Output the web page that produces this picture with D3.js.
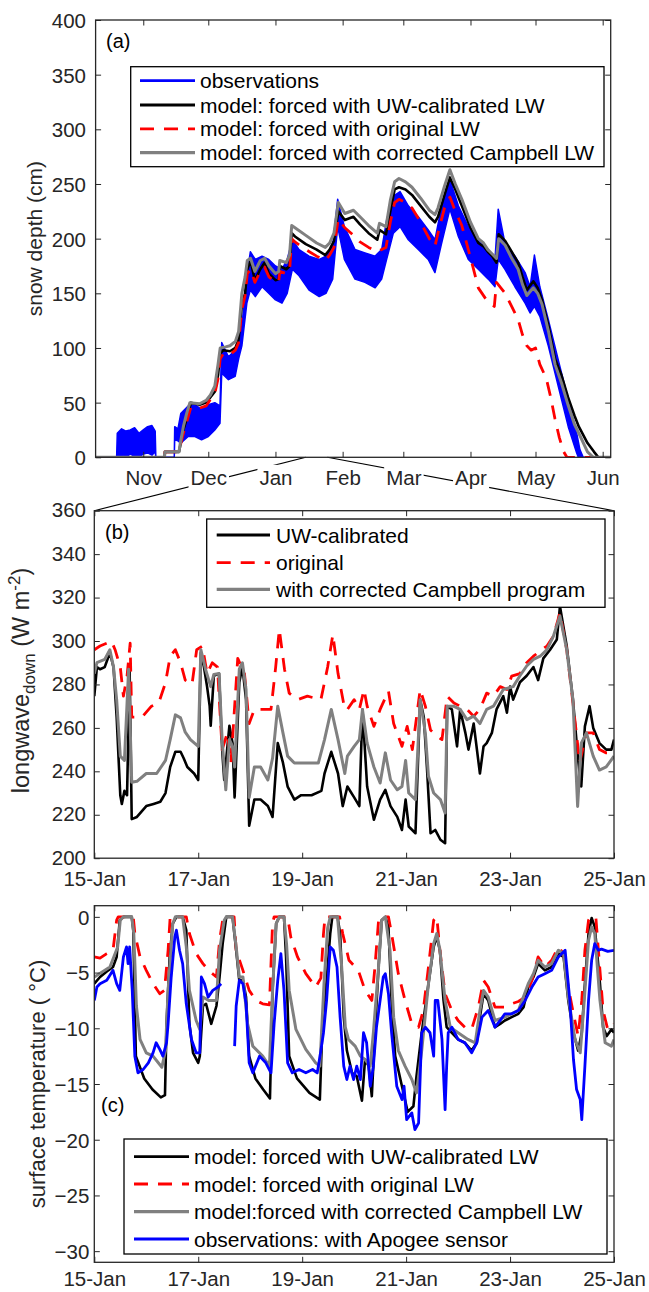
<!DOCTYPE html>
<html>
<head>
<meta charset="utf-8">
<script src="https://cdn.jsdelivr.net/npm/d3@7"></script>
<style>
  body { margin: 0; background: #fff; }
  text { font-family: "Liberation Sans", Arial, Helvetica, sans-serif; }
</style>
</head>
<body>
<script>
// ---------- panel (a): snow depth, x = days since 1 Nov, values in cm ----------
// observations drawn as a band: [day, low, high]
var snowObs = [[-22,0,0],[-12.3,0,0],[-12,0,22],[-10,2,26],[-8,0,24],[-6,3,25],[-4,1,27],[-2,0,22],[0,3,25],[2,4,28],[4,2,29],[5.5,5,24],[5.8,0,0],
  [14.3,0,0],[14.5,16,28],[16,15,26],[17.3,13,40],[20.7,19,47],[23.8,19,48],[26.9,16,44],[30,19,48],[33,25,50],[35.4,31,47],[36.2,77,105],
  [39.3,71,92],[42.4,74,98],[44,90,110],[45.5,102,120],[47.8,141,166],[49.4,153,188],[51.7,147,181],[54.8,156,184],[57.9,150,181],[61,144,175],
  [64,141,172],[66.4,150,181],[68.8,172,199],[71.9,166,190],[76.5,153,184],[81.2,147,181],[84.3,150,184],[87.4,163,193],[89.7,211,236],
  [92.8,181,211],[97.7,163,190],[102.3,160,187],[107,155,184],[110,163,190],[112.3,181,217],[115.4,205,239],[118.5,211,243],[122.3,199,230],
  [126.9,190,220],[131.5,181,208],[134.6,169,199],[137.7,196,230],[141.5,227,254],[145.4,202,230],[150,181,211],[154.6,172,199],[159.2,163,190],
  [162.3,156,181],[163.8,181,227],[166.9,172,196],[171.5,156,184],[176.2,141,169],[178.5,132,156],[180.5,138,185],[183,129,156],[186.9,102,126],
  [191.5,65,89],[196.1,28,53],[200,4,22],[201.5,-4,7],[203,0,0],[215.7,0,0]];

var snowUW = [[-22,0],[9.8,0],[10,5],[16.5,5],[17,10],[18.5,25],[20,35],[22,50],[26,48],[29,50],[31,55],[33,60],[34.5,75],[35.5,95],[37,98],
  [40,97],[42.5,100],[44,108],[45.5,140],[47,150],[48,172],[49.5,180],[51.5,162],[54,172],[56,178],[58,168],[61,162],[62.5,163],[63,175],
  [66,172],[67.5,175],[68.5,205],[70,202],[75,195],[80,190],[84,185],[86,190],[88,198],[90,225],[93,217],[97,220],[100,213],[104,205],
  [108,199],[109,208],[112,204],[114,225],[116,245],[118,247],[121,245],[124,240],[128,230],[132,220],[134.6,215],[136,220],[139,240],
  [141.5,256],[144,245],[147,230],[151,210],[154.6,196],[157,193],[159,188],[161,184],[163,178],[164,204],[167,198],[170,188],[173,178],
  [175,165],[177,153],[180,161],[182,155],[184,144],[187,120],[190,90],[193,75],[196,55],[199,38],[201,28],[205,13],[208,5],[210,0],[215.7,0]];

var snowOrig = [[-22,0],[9.8,0],[10,5],[16.5,5],[17,10],[18.5,22],[20,32],[22,46],[26,45],[29,47],[31,53],[33,58],[34.5,72],[35.5,90],[37,95],
  [40,94],[42.5,98],[44,105],[45.5,135],[47,148],[48,168],[49.5,172],[51.5,160],[54,170],[56,174],[58,165],[61,160],[62.5,161],[63,170],
  [66,168],[67.5,170],[68.5,200],[70,197],[75,190],[80,184],[84,180],[86,185],[88,192],[90,218],[93,210],[97,203],[100,197],[104,192],
  [108,188],[110,190],[112,192],[114,215],[116,233],[118,236],[121,233],[124,228],[128,215],[132,200],[134.6,193],[136,205],[139,228],
  [141.5,238],[144,225],[147,212],[150,190],[152,175],[154.6,155],[158,145],[162,138],[163,160],[165,155],[167,150],[170,138],[173,126],
  [175,112],[177,102],[179,98],[181,100],[183,85],[186,72],[188,55],[190,35],[192,18],[194,5],[195.5,0],[215.7,0]];

var snowCamp = [[-22,0],[9.8,0],[10,5],[16.5,5],[17,12],[18.5,28],[20,40],[21.5,50],[26,49],[29,52],[31,57],[33,65],[34.5,85],[35.5,100],
  [38,101],[40,102],[42.5,106],[44,115],[45.5,150],[47,165],[48,180],[49.5,182],[51.5,170],[54,180],[56,182],[58,175],[61,168],[62.5,170],
  [63,180],[66,178],[67.5,185],[68.5,212],[70,210],[75,203],[80,196],[84,192],[86,196],[88,205],[90,233],[93,223],[97,226],[100,220],
  [104,212],[108,205],[109,214],[112,211],[114,235],[116,252],[118,255],[121,252],[124,247],[128,237],[132,226],[134.6,222],[136,228],
  [139,248],[141.5,263],[144,250],[147,236],[151,215],[154.6,200],[157,196],[159,190],[161,186],[163,182],[164,200],[167,194],[170,182],
  [173,172],[175,158],[177,148],[180,155],[182,150],[184,140],[187,115],[190,85],[193,68],[196,48],[199,30],[201,22],[205,5],[207.7,0],[215.7,0]];

var monthTicks = [[2016,10],[2016,11],[2017,0],[2017,1],[2017,2],[2017,3],[2017,4],[2017,5]];
var snowTicks = [0,50,100,150,200,250,300,350,400];

// ---------- panel (b): longwave down, x = days since 15 Jan, W m-2 ----------
var lwUW = [[0,274.6],[0.05,288],[0.11,287],[0.2,288],[0.3,294.6],[0.37,288],[0.43,265],[0.5,229],[0.53,225],[0.58,231],[0.63,229],[0.68,286],
  [0.72,218],[0.82,219],[1.0,224],[1.14,225],[1.27,226],[1.37,230],[1.46,242],[1.56,249],[1.66,249],[1.72,246],[1.79,242],[1.92,239],[2.0,236],
  [2.05,294.6],[2.11,288],[2.17,279],[2.22,270],[2.24,261],[2.3,284],[2.4,285],[2.46,250],[2.5,236],[2.6,261],[2.66,253],[2.7,228],[2.79,281],
  [2.85,288],[2.92,273],[2.98,215],[3.08,227],[3.2,227],[3.34,224],[3.43,219],[3.53,253],[3.63,244],[3.72,233],[3.85,227],[3.98,229],
  [4.18,229],[4.37,231],[4.43,239],[4.56,249],[4.69,239],[4.78,224],[4.87,233],[5.0,228],[5.1,224],[5.16,268.5],[5.25,233],[5.38,217.7],
  [5.5,227],[5.6,231.5],[5.7,224],[5.83,219],[5.92,213],[5.99,227],[6.05,214.6],[6.18,211.5],[6.27,273],[6.34,265],[6.4,242],[6.47,211.5],
  [6.56,213],[6.66,208.5],[6.75,206.9],[6.79,270],[6.88,268.5],[6.98,251.5],[7.04,268.5],[7.14,257.7],[7.2,250],[7.3,262],[7.42,239],
  [7.49,251.5],[7.55,253],[7.65,257.7],[7.74,268.5],[7.87,274.6],[7.94,267],[8.0,279],[8.06,273],[8.19,281],[8.32,284],[8.45,288],[8.54,282],
  [8.64,292],[8.77,296],[8.9,300.7],[8.96,316],[9.09,297.7],[9.21,273],[9.31,245],[9.37,233],[9.44,260.7],[9.53,270],[9.6,260],[9.72,253],
  [9.85,250],[9.95,250],[10,254.6]];

var lwOrig = [[0,296],[0.11,297.7],[0.24,299],[0.33,300],[0.4,296],[0.5,288],[0.56,274.6],[0.63,283.8],[0.69,299],[0.72,265],[0.92,265],
  [1.1,270],[1.24,271.5],[1.37,280.8],[1.46,293],[1.56,296],[1.66,290],[1.75,282],[1.88,280],[1.97,296],[2.08,297.7],[2.17,285],[2.27,290],
  [2.37,288],[2.46,250],[2.56,257.7],[2.63,244],[2.76,292],[2.89,285],[2.98,262],[3.08,268.5],[3.21,268.5],[3.4,268.5],[3.49,288],[3.56,305.4],
  [3.66,287],[3.75,276],[3.91,273],[4.1,274.6],[4.36,273],[4.49,288],[4.59,303],[4.69,285],[4.82,268.5],[4.87,268.5],[5.0,273],[5.1,268.5],
  [5.19,277.7],[5.25,270],[5.38,260.7],[5.5,268.5],[5.66,277],[5.76,262],[5.92,251.5],[6.02,260.7],[6.12,250],[6.27,277.7],[6.37,270],
  [6.47,259],[6.6,256],[6.69,254.6],[6.79,274.6],[6.92,271.5],[7.04,270],[7.17,268.5],[7.3,265.4],[7.42,268.5],[7.55,276],[7.68,274.6],
  [7.81,279],[7.94,277.7],[8.03,283.8],[8.19,285],[8.32,290],[8.45,293],[8.58,295.4],[8.71,297.7],[8.83,302],[8.96,313],[9.09,296],
  [9.21,271.5],[9.34,244],[9.47,257.7],[9.6,257.7],[9.72,250],[9.85,248.5],[10,248.5]];

var lwCamp = [[0,285],[0.05,290],[0.2,291.5],[0.3,296],[0.37,288],[0.43,273],[0.5,247],[0.58,245],[0.66,287],[0.72,235],[0.82,235.4],
  [1.0,239],[1.2,239],[1.37,245],[1.46,254.6],[1.56,266],[1.66,264.6],[1.75,258],[1.85,254.6],[2.0,251.5],[2.05,296],[2.14,287],[2.24,279],
  [2.3,284.6],[2.4,285],[2.46,254.6],[2.53,231.5],[2.6,254.6],[2.66,251.5],[2.7,242],[2.79,287],[2.85,290],[2.92,277.7],[2.98,228],[3.08,242],
  [3.2,242],[3.34,236],[3.43,246],[3.53,270],[3.63,257.7],[3.72,247],[3.85,243.8],[4.05,243.8],[4.31,243.8],[4.43,254.6],[4.56,268.5],
  [4.69,254.6],[4.82,239],[4.87,247],[5.0,251.5],[5.1,254.6],[5.16,268.5],[5.25,253],[5.38,242],[5.5,234.6],[5.6,248.5],[5.7,236],[5.83,231.5],
  [5.92,233],[5.99,245],[6.05,230],[6.18,227],[6.27,273],[6.37,257.7],[6.43,237.7],[6.53,230],[6.66,227],[6.75,220.8],[6.79,270],[6.91,270],
  [7.04,268.5],[7.17,263.8],[7.3,265.4],[7.42,262],[7.55,268.5],[7.68,270],[7.87,277.7],[8.06,279],[8.19,284],[8.32,288.5],[8.45,291.5],
  [8.58,293],[8.71,296],[8.83,302],[8.96,311.5],[9.09,296],[9.21,273],[9.3,223.8],[9.37,253],[9.47,257.7],[9.6,247],[9.72,240.6],[9.85,242],[10,247]];

var lwTicks = [200,220,240,260,280,300,320,340,360];

// ---------- panel (c): surface temperature, x = days since 15 Jan, deg C ----------
var tsUW = [[0,-6.0],[0.11,-5.4],[0.24,-4.9],[0.36,-4.5],[0.43,-3.6],[0.49,-0.3],[0.56,0],[0.72,0],[0.75,-1.2],[0.8,-12.5],[0.96,-14.5],
  [1.12,-15.5],[1.28,-16.2],[1.36,-16],[1.39,-9.6],[1.45,-3.6],[1.51,-0.6],[1.58,0],[1.7,0],[1.77,-1.2],[1.83,-9.6],[1.9,-12.2],[2.0,-13.1],
  [2.03,-12.5],[2.09,-8],[2.15,-7.8],[2.25,-9.6],[2.35,-8],[2.41,-5.4],[2.47,-2.4],[2.54,0],[2.66,0],[2.73,-3],[2.79,-5.7],[2.86,-5.7],
  [2.92,-7.2],[2.98,-12.5],[3.1,-14.5],[3.25,-15.5],[3.38,-16.3],[3.43,-6.6],[3.5,-0.6],[3.56,0],[3.65,0],[3.69,-3.6],[3.75,-12.5],[3.9,-14.5],
  [4.14,-15.8],[4.34,-16.4],[4.39,-9.6],[4.44,-7.5],[4.54,-1.5],[4.58,0],[4.68,0],[4.73,-1.5],[4.8,-9],[4.86,-12],[4.96,-14],[5.05,-14.3],
  [5.15,-16.5],[5.21,-12.8],[5.28,-13.4],[5.34,-16.1],[5.4,-10.4],[5.47,-4.5],[5.53,-0.3],[5.6,0],[5.66,-0.9],[5.72,-7.5],[5.79,-12.5],
  [5.92,-15.2],[6.03,-17.5],[6.14,-17],[6.2,-14.3],[6.3,-10.4],[6.43,-6],[6.53,-2.7],[6.59,-1.8],[6.65,-3],[6.72,-7.5],[6.78,-9.9],[6.88,-10.4],
  [7.0,-11],[7.13,-11.3],[7.26,-12],[7.36,-11.3],[7.42,-9],[7.49,-6.9],[7.58,-7.5],[7.71,-9.9],[7.81,-9.6],[7.9,-9.3],[8.03,-9],[8.16,-8.7],
  [8.26,-8.1],[8.35,-6.3],[8.45,-5.4],[8.54,-4.2],[8.67,-4.8],[8.8,-4.5],[8.93,-3.3],[9.03,-3.6],[9.12,-7.5],[9.22,-10.4],[9.31,-12],
  [9.38,-10.4],[9.44,-6],[9.51,-1.5],[9.57,-0.1],[9.63,-0.9],[9.73,-6],[9.79,-9.9],[9.86,-10.7],[9.95,-10.1],[10,-10.4]];

var tsOrig = [[0,-3.6],[0.11,-3.7],[0.24,-3.3],[0.36,-3],[0.43,-0.3],[0.46,0],[0.75,0],[0.78,-1.5],[0.88,-3.6],[1.0,-4.8],[1.13,-6],
  [1.26,-6.9],[1.35,-6.6],[1.42,-3],[1.46,0],[1.77,0],[1.83,-1.5],[1.96,-3.3],[2.09,-4.2],[2.22,-4.9],[2.35,-5.4],[2.41,-2.1],[2.47,-0.3],
  [2.5,0],[2.69,0],[2.73,-3],[2.86,-4.8],[2.98,-6.6],[3.11,-7.5],[3.24,-7.8],[3.37,-7.9],[3.43,-0.6],[3.46,0],[3.72,0],[3.78,-1.8],
  [3.91,-3.6],[4.07,-5.1],[4.26,-6.3],[4.36,-5.5],[4.41,-1.5],[4.44,0],[4.72,0],[4.78,-1.5],[4.9,-3.9],[5.08,-4.8],[5.21,-6.6],[5.34,-7.5],
  [5.4,-4.5],[5.47,-0.3],[5.5,0],[5.66,0],[5.72,-1.5],[5.85,-5.1],[5.98,-7.5],[6.11,-9.6],[6.24,-9.9],[6.33,-8.4],[6.43,-4.5],[6.53,-0.3],
  [6.59,0],[6.65,-3],[6.75,-6.9],[6.88,-8.4],[7.0,-9.3],[7.13,-9.9],[7.26,-10.1],[7.39,-8.1],[7.49,-5.7],[7.58,-6.3],[7.71,-8.1],[7.9,-8.1],
  [8.03,-7.8],[8.16,-7.6],[8.29,-7.2],[8.42,-5.7],[8.54,-3.6],[8.67,-4.5],[8.8,-3.9],[8.93,-2.7],[9.03,-3.3],[9.12,-6.3],[9.22,-8.7],
  [9.31,-10.7],[9.38,-7.5],[9.44,-3],[9.51,-0.3],[9.55,0],[9.65,0],[9.7,-3],[9.79,-8.4],[9.88,-10.1],[9.98,-9.8],[10,-9.6]];

var tsCamp = [[0,-5.4],[0.3,-4.5],[0.45,-2.7],[0.5,-0.3],[0.56,0],[0.72,0],[0.76,-1.5],[0.81,-8],[0.88,-11],[1.0,-12.2],[1.13,-12.5],
  [1.3,-13.5],[1.37,-12],[1.42,-6.6],[1.51,-0.6],[1.56,0],[1.7,0],[1.77,-2.7],[1.83,-6.6],[1.96,-9.3],[2.03,-10.1],[2.09,-7.2],[2.2,-7.5],
  [2.35,-7.5],[2.41,-3],[2.5,-0.3],[2.54,0],[2.66,0],[2.73,-2.7],[2.79,-5.4],[2.86,-5.4],[2.95,-9.6],[3.05,-11.6],[3.24,-12.5],[3.37,-13.4],
  [3.43,-6.6],[3.5,-0.6],[3.56,0],[3.65,0],[3.7,-2.5],[3.75,-6.6],[3.88,-10.1],[4.07,-11.9],[4.26,-13.1],[4.34,-13.4],[4.42,-6],[4.49,-1],
  [4.54,0],[4.68,0],[4.76,-4.5],[4.83,-9.9],[4.89,-11],[5.02,-11.6],[5.12,-12.5],[5.21,-12.8],[5.31,-13.4],[5.37,-10.4],[5.47,-4.5],
  [5.53,-0.3],[5.6,0],[5.69,-3],[5.76,-9],[5.85,-12],[5.98,-13.4],[6.11,-14.6],[6.2,-15.8],[6.3,-12],[6.43,-6],[6.53,-2.4],[6.59,-1.5],
  [6.65,-3],[6.75,-7.5],[6.85,-9.9],[7.0,-10.4],[7.19,-11],[7.33,-11.3],[7.42,-8.4],[7.49,-6.6],[7.58,-7.2],[7.71,-9.3],[7.9,-9],[8.16,-8.4],
  [8.35,-6],[8.45,-5.1],[8.54,-3.9],[8.67,-4.5],[8.8,-4.2],[8.93,-3],[9.03,-3.3],[9.12,-7.2],[9.25,-11],[9.35,-12.2],[9.42,-8],[9.51,-2.1],
  [9.57,-0.9],[9.63,-1.5],[9.73,-7.5],[9.83,-11.3],[9.95,-11.6],[10,-11]];

// null marks the gap in the Apogee record
var tsObs = [[0,-7.5],[0.05,-6.3],[0.11,-6],[0.24,-5.7],[0.36,-4.8],[0.43,-6],[0.49,-6.6],[0.56,-3.6],[0.62,-2.7],[0.65,-4.2],[0.68,-2.7],
  [0.73,-6.6],[0.78,-12.5],[0.84,-14],[0.94,-13.7],[1.04,-13.1],[1.13,-12.2],[1.19,-11.3],[1.26,-11.9],[1.32,-12.5],[1.39,-11.3],[1.42,-9.6],
  [1.48,-5.4],[1.55,-1.8],[1.58,-1.2],[1.64,-3],[1.7,-4.2],[1.77,-7.8],[1.87,-11],[1.96,-12.2],[2.03,-12.2],[2.06,-5.4],[2.12,-6],[2.19,-7.2],
  [2.28,-6.6],[2.38,-6.3],[2.44,-6],[2.55,null],[2.7,-11.6],[2.73,-8],[2.79,-5.7],[2.86,-6],[2.92,-7.8],[2.98,-13.1],[3.05,-14],[3.18,-12.5],
  [3.3,-13.1],[3.4,-14],[3.46,-9.6],[3.53,-5.7],[3.59,-3.3],[3.65,-6.6],[3.72,-13.1],[3.81,-14],[3.94,-13.7],[4.07,-14],[4.2,-13.7],
  [4.29,-14],[4.36,-12],[4.41,-10.4],[4.47,-7.5],[4.54,-2.7],[4.6,-3],[4.67,-4.5],[4.73,-9],[4.8,-13.4],[4.86,-14.6],[4.92,-13.4],[4.99,-14.6],
  [5.05,-13.4],[5.12,-14.6],[5.18,-10.4],[5.24,-11.3],[5.31,-15.2],[5.37,-13.4],[5.43,-9.9],[5.5,-7.5],[5.56,-5.4],[5.6,-5.1],[5.66,-6.9],
  [5.72,-10.4],[5.82,-15.2],[5.92,-16.4],[5.96,-15.2],[6.01,-18.2],[6.11,-17.6],[6.17,-19.1],[6.24,-18.5],[6.3,-10.4],[6.37,-9.9],[6.46,-10.4],
  [6.53,-12.5],[6.56,-7.5],[6.61,-7.5],[6.69,-11],[6.75,-17.3],[6.78,-13.4],[6.81,-10.4],[6.88,-9.9],[7.0,-11],[7.13,-11.3],[7.26,-12.2],
  [7.36,-11.3],[7.46,-9],[7.58,-8.4],[7.71,-9.9],[7.81,-9.3],[7.9,-8.7],[8.03,-8.7],[8.16,-8.4],[8.29,-7.5],[8.42,-6.3],[8.54,-5.4],
  [8.67,-5.1],[8.8,-4.8],[8.93,-3.6],[9.06,-3],[9.15,-7.5],[9.22,-12.8],[9.28,-15.5],[9.35,-16.4],[9.38,-18.2],[9.44,-13.4],[9.51,-7.5],
  [9.57,-3.9],[9.63,-2.4],[9.7,-3],[9.76,-2.9],[9.88,-3.1],[10,-3]];

var tsTicks = [-30,-25,-20,-15,-10,-5,0];
var janTicks = [0,2,4,6,8,10];

var legendA = ["observations","model: forced with UW-calibrated LW","model: forced with original LW","model: forced with corrected Campbell LW"];
var legendB = ["UW-calibrated","original","with corrected Campbell program"];
var legendC = ["model: forced with UW-calibrated LW","model: forced with original LW","model:forced with corrected Campbell LW","observations: with Apogee sensor"];

// ---------- drawing ----------
var FS = 20.5, LFS = 21, AX = "#262626";
var BLUE = "#0000ff", BLACK = "#000000", RED = "#ff0000", GRAY = "#808080";
var DASH = "14,10";

var svg = d3.select("body").append("svg").attr("width", 649).attr("height", 1292);

function nov(d){ return new Date(Date.UTC(2016,10,1) + d*864e5); }
function jan(t){ return new Date(Date.UTC(2017,0,15) + t*864e5); }

// scales
var xA = d3.scaleUtc().domain([nov(-22), nov(215.7)]).range([95.6, 610.7]);
var yA = d3.scaleLinear().domain([0,400]).range([457.3, 20]);
var xB = d3.scaleUtc().domain([jan(0), jan(10)]).range([94.3, 614]);
var yB = d3.scaleLinear().domain([200,360]).range([858.2, 510.7]);
var xC = d3.scaleUtc().domain([jan(0), jan(10)]).range([94.3, 614]);
var yC = d3.scaleLinear().domain([-31,1]).range([1262.3, 905.7]);

function clip(id, x, y){
  svg.append("clipPath").attr("id", id).append("rect")
    .attr("x", x.range()[0]).attr("y", y.range()[1])
    .attr("width", x.range()[1]-x.range()[0]).attr("height", y.range()[0]-y.range()[1]);
}
clip("ca", xA, yA); clip("cb", xB, yB); clip("cc", xC, yC);

function drawLine(g, data, x, y, toDate, color, w, dash){
  var line = d3.line()
    .defined(function(d){ return d[1] !== null; })
    .x(function(d){ return x(toDate(d[0])); })
    .y(function(d){ return y(d[1]); });
  g.append("path").datum(data)
    .attr("d", line)
    .attr("fill", "none")
    .attr("stroke", color)
    .attr("stroke-width", w)
    .attr("stroke-linejoin", "round")
    .attr("stroke-dasharray", dash || null);
}

// style an axis group
function styleAxis(g){
  g.select(".domain").remove();
  g.selectAll(".tick line").attr("stroke", AX).attr("stroke-width", 1);
  g.selectAll("text").attr("font-size", FS).attr("fill", AX).attr("font-family", null);
}

function axes(x, y, xVals, xFmt, yVals, yPad, xPad, yDy){
  var x0 = x.range()[0], x1 = x.range()[1], y0 = y.range()[0], y1 = y.range()[1];
  var gb = svg.append("g").attr("transform", "translate(0," + y0 + ")")
    .call(d3.axisBottom(x).tickValues(xVals).tickFormat(xFmt).tickSizeInner(-5.5).tickSizeOuter(0).tickPadding(xPad));
  styleAxis(gb);
  var gt = svg.append("g").attr("transform", "translate(0," + y1 + ")")
    .call(d3.axisTop(x).tickValues(xVals).tickFormat("").tickSizeInner(-5.5).tickSizeOuter(0));
  styleAxis(gt);
  var gl = svg.append("g").attr("transform", "translate(" + x0 + ",0)")
    .call(d3.axisLeft(y).tickValues(yVals).tickSizeInner(-5.5).tickSizeOuter(0).tickPadding(yPad));
  styleAxis(gl);
  gl.selectAll("text").attr("dy", yDy);
  var gr = svg.append("g").attr("transform", "translate(" + x1 + ",0)")
    .call(d3.axisRight(y).tickValues(yVals).tickFormat("").tickSizeInner(-5.5).tickSizeOuter(0));
  styleAxis(gr);
  svg.append("rect").attr("x", x0).attr("y", y1).attr("width", x1-x0).attr("height", y0-y1)
    .attr("fill", "none").attr("stroke", AX).attr("stroke-width", 1.3);
  return gb;
}

function legend(box, labels, colors, dashes, widths, rows, lx0, lx1, tx){
  var g = svg.append("g");
  g.append("rect").attr("x", box[0]).attr("y", box[1]).attr("width", box[2]-box[0]).attr("height", box[3]-box[1])
    .attr("fill", "#fff").attr("stroke", "#000").attr("stroke-width", 1.3);
  labels.forEach(function(lab, i){
    g.append("line").attr("x1", lx0).attr("x2", lx1).attr("y1", rows[i]).attr("y2", rows[i])
      .attr("stroke", colors[i]).attr("stroke-width", widths[i]).attr("stroke-dasharray", dashes[i] || null);
    g.append("text").attr("x", tx).attr("y", rows[i]).attr("dy", "0.36em")
      .attr("font-size", LFS).attr("fill", "#000").text(lab);
  });
}

// ----- panel (a) -----
var ga = svg.append("g").attr("clip-path", "url(#ca)");
ga.append("path").datum(snowObs)
  .attr("d", d3.area()
    .x(function(d){ return xA(nov(d[0])); })
    .y0(function(d){ return yA(d[1]); })
    .y1(function(d){ return yA(d[2]); }))
  .attr("fill", BLUE).attr("stroke", BLUE).attr("stroke-width", 1.5).attr("stroke-linejoin", "round");
drawLine(ga, snowUW, xA, yA, nov, BLACK, 2.6);
drawLine(ga, snowOrig, xA, yA, nov, RED, 2.8, DASH);
drawLine(ga, snowCamp, xA, yA, nov, GRAY, 3);

// zoom connector lines between (a) and (b)
svg.append("line").attr("x1", xA(jan(0))).attr("y1", yA(0)).attr("x2", xB.range()[0]).attr("y2", yB.range()[1])
  .attr("stroke", "#000").attr("stroke-width", 1.1);
svg.append("line").attr("x1", xA(jan(10))).attr("y1", yA(0)).attr("x2", xB.range()[1]).attr("y2", yB.range()[1])
  .attr("stroke", "#000").attr("stroke-width", 1.1);

var gaxA = axes(xA, yA, monthTicks.map(function(m){ return new Date(Date.UTC(m[0], m[1], 1)); }),
  d3.utcFormat("%b"), snowTicks, 9.6, 13, "0.36em");
// month labels sit on white so they break the connector lines
gaxA.selectAll(".tick text").each(function(){
  var bb = this.getBBox();
  d3.select(this.parentNode).insert("rect", "text")
    .attr("x", bb.x - 2).attr("y", bb.y - 1).attr("width", bb.width + 4).attr("height", bb.height + 2)
    .attr("fill", "#fff");
});

legend([130.7, 66.7, 604, 166.7], legendA, [BLUE, BLACK, RED, GRAY], [null, null, DASH, null], [2.8, 2.8, 2.8, 3.2],
  [80.7, 105, 128.8, 152.7], 140, 195, 200);

svg.append("text").attr("x", 106).attr("y", 48).attr("font-size", 20).attr("fill", "#000").text("(a)");
svg.append("text").attr("transform", "translate(42," + ((yA.range()[0] + yA.range()[1]) / 2) + ") rotate(-90)")
  .attr("text-anchor", "middle").attr("font-size", LFS).attr("fill", AX).text("snow depth (cm)");

// ----- panel (b) -----
var gbp = svg.append("g").attr("clip-path", "url(#cb)");
drawLine(gbp, lwUW, xB, yB, jan, BLACK, 2.6);
drawLine(gbp, lwOrig, xB, yB, jan, RED, 2.8, DASH);
drawLine(gbp, lwCamp, xB, yB, jan, GRAY, 3);

axes(xB, yB, janTicks.map(jan), d3.utcFormat("%d-%b"), lwTicks, 8.3, 13, "0.3em");

legend([206.7, 519, 605, 607.3], legendB, [BLACK, RED, GRAY], [null, DASH, null], [2.8, 2.8, 3.2],
  [535, 562.7, 589.3], 216.7, 270, 276);

svg.append("text").attr("x", 105).attr("y", 539).attr("font-size", 20).attr("fill", "#000").text("(b)");
var lb = svg.append("text").attr("transform", "translate(29," + ((yB.range()[0] + yB.range()[1]) / 2 - 4) + ") rotate(-90)")
  .attr("text-anchor", "middle").attr("font-size", 23.5).attr("fill", AX);
lb.append("tspan").text("longwave");
lb.append("tspan").attr("font-size", 17).attr("dy", 6).text("down");
lb.append("tspan").attr("dy", -6).text(" (W m");
lb.append("tspan").attr("font-size", 17).attr("dy", -9).text("-2");
lb.append("tspan").attr("dy", 9).text(")");

// ----- panel (c) -----
var gcp = svg.append("g").attr("clip-path", "url(#cc)");
drawLine(gcp, tsUW, xC, yC, jan, BLACK, 2.6);
drawLine(gcp, tsOrig, xC, yC, jan, RED, 2.8, DASH);
drawLine(gcp, tsCamp, xC, yC, jan, GRAY, 3);
drawLine(gcp, tsObs, xC, yC, jan, BLUE, 2.8);

axes(xC, yC, janTicks.map(jan), d3.utcFormat("%d-%b"), tsTicks, 5, 9.5, "0.36em");

legend([124, 1139, 607, 1254], legendC, [BLACK, RED, GRAY, BLUE], [null, DASH, null, null], [2.8, 2.8, 3.2, 2.8],
  [1156.7, 1184, 1211.7, 1239], 134, 189, 194);

svg.append("text").attr("x", 101).attr("y", 1112).attr("font-size", 20).attr("fill", "#000").text("(c)");
svg.append("text").attr("transform", "translate(45," + ((yC.range()[0] + yC.range()[1]) / 2) + ") rotate(-90)")
  .attr("text-anchor", "middle").attr("font-size", 22).attr("fill", AX).text("surface temperature ( \u00B0C)");
</script>
</body>
</html>
